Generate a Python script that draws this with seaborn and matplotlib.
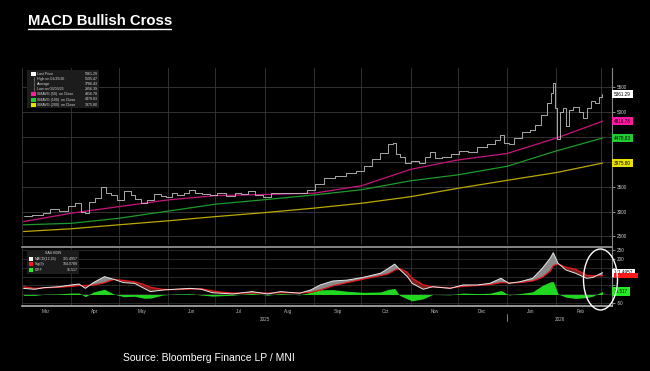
import pandas as pd
import matplotlib
matplotlib.use('Agg')
import matplotlib.pyplot as plt
import matplotlib.dates as mdates
import matplotlib.patches as mpatches
from matplotlib.lines import Line2D
from matplotlib.ticker import NullFormatter
import seaborn as sns

# ── Data ─────────────────────────────────────────────────────────────────────
price_dates = ["2025-03-02", "2025-03-13", "2025-03-16", "2025-03-21", "2025-03-28", "2025-04-01",
               "2025-04-06", "2025-04-09", "2025-04-10", "2025-04-14", "2025-04-18", "2025-04-22",
               "2025-04-24", "2025-04-28", "2025-05-02", "2025-05-07", "2025-05-10", "2025-05-13",
               "2025-05-17", "2025-05-20", "2025-05-26", "2025-05-29", "2025-06-02", "2025-06-05",
               "2025-06-09", "2025-06-13", "2025-06-16", "2025-06-20", "2025-06-25", "2025-06-30",
               "2025-07-04", "2025-07-11", "2025-07-15", "2025-07-19", "2025-07-24", "2025-07-28",
               "2025-08-03", "2025-08-07", "2025-08-13", "2025-08-19", "2025-08-25", "2025-08-31",
               "2025-09-04", "2025-09-11", "2025-09-18", "2025-09-25", "2025-09-30", "2025-10-05",
               "2025-10-10", "2025-10-15", "2025-10-20", "2025-10-22", "2025-10-24", "2025-10-27",
               "2025-10-30", "2025-11-04", "2025-11-08", "2025-11-12", "2025-11-15", "2025-11-18",
               "2025-11-24", "2025-11-29", "2025-12-04", "2025-12-10", "2025-12-16", "2025-12-22",
               "2025-12-26", "2025-12-29", "2025-12-31", "2026-01-04", "2026-01-07", "2026-01-13",
               "2026-01-17", "2026-01-20", "2026-01-24", "2026-01-28", "2026-01-29", "2026-01-30",
               "2026-02-01", "2026-02-02", "2026-02-04", "2026-02-06", "2026-02-08", "2026-02-10",
               "2026-02-13", "2026-02-17", "2026-02-18", "2026-02-22", "2026-02-24", "2026-02-27",
               "2026-03-01", "2026-03-02"]
price_close = [2910, 2933, 2980, 3048, 3020, 3115,
               3168, 3000, 2980, 3200, 3268, 3490,
               3370, 3335, 3235, 3423, 3335, 3250,
               3168, 3235, 3355, 3315, 3300, 3382,
               3335, 3370, 3436, 3382, 3355, 3335,
               3370, 3315, 3370, 3355, 3423, 3335,
               3300, 3382, 3382, 3370, 3382, 3436,
               3550, 3680, 3715, 3780, 3815, 3916,
               4050, 4185, 4352, 4385, 4150, 4100,
               3980, 4012, 3980, 4100, 4200, 4070,
               4100, 4150, 4215, 4200, 4300, 4352,
               4440, 4540, 4370, 4352, 4480, 4605,
               4640, 4740, 4940, 5177, 5380, 5580,
               5077, 4470, 5010, 5077, 4720, 5043,
               5110, 5010, 4875, 5077, 5225, 5177,
               5310, 5360]

ma_dates = ["2025-03-02", "2025-04-01", "2025-05-01", "2025-06-01", "2025-07-01", "2025-08-01",
            "2025-09-01", "2025-10-01", "2025-11-01", "2025-12-01", "2026-01-01", "2026-02-01",
            "2026-03-02"]
ma50 = [2800, 2968, 3100, 3235, 3322, 3345, 3370, 3520, 3850, 4040, 4170, 4480, 4817]
ma100 = [2735, 2765, 2866, 3010, 3150, 3240, 3335, 3440, 3620, 3740, 3913, 4222, 4479]
ma200 = [2600, 2655, 2735, 2815, 2900, 2980, 3070, 3168, 3300, 3470, 3630, 3786, 3976]

macd_dates = ["2025-03-02", "2025-03-09", "2025-03-15", "2025-03-24", "2025-04-01", "2025-04-06",
              "2025-04-10", "2025-04-15", "2025-04-22", "2025-04-28", "2025-05-04", "2025-05-11",
              "2025-05-17", "2025-05-21", "2025-05-29", "2025-06-05", "2025-06-15", "2025-06-22",
              "2025-06-29", "2025-07-04", "2025-07-12", "2025-07-24", "2025-08-03", "2025-08-11",
              "2025-08-23", "2025-08-30", "2025-09-05", "2025-09-13", "2025-09-22", "2025-10-02",
              "2025-10-13", "2025-10-18", "2025-10-22", "2025-10-25", "2025-10-30", "2025-11-02",
              "2025-11-09", "2025-11-15", "2025-11-26", "2025-12-04", "2025-12-13", "2025-12-21",
              "2025-12-28", "2026-01-02", "2026-01-09", "2026-01-17", "2026-01-23", "2026-01-28",
              "2026-01-30", "2026-02-02", "2026-02-07", "2026-02-13", "2026-02-20", "2026-02-24",
              "2026-03-02"]
macd = [34, 29, 38, 43, 53, 58, 34, 66, 99, 84, 66, 62,
        34, 16, 25, 29, 34, 29, 10, 7, 3, 16, 3, 16,
        7, 25, 53, 75, 80, 95, 118, 145, 169, 140, 99, 62,
        29, 43, 34, 53, 53, 62, 90, 62, 71, 90, 145, 201,
        232, 173, 136, 118, 90, 95, 121.5]
signal = [43, 34, 37, 40, 45, 50, 50, 52, 65, 84, 78, 70,
          55, 40, 28, 27, 30, 32, 20, 14, 8, 8, 8, 10,
          9, 12, 25, 48, 66, 85, 105, 115, 135, 145, 123, 90,
          53, 43, 36, 45, 50, 55, 66, 65, 66, 75, 95, 130,
          160, 170, 151, 140, 107, 104, 104.1]
diff = [-5, -5, 1, 3, 8, 8, -12, 14, 29, 2, -12, -10,
        -21, -20, -3, 2, 4, -3, -9, -7, -4, 6, -4, 5,
        -2, 12, 26, 27, 18, 12, 14, 28, 34, -5, -25, -35,
        -24, 0, -2, 8, 5, 7, 22, -3, 5, 15, 50, 70,
        72, 3, -15, -22, -17, -9, 17]

price_ticks = [2500, 3000, 3500, 4000, 4500, 5000, 5500]
price_tick_labels = ["2500", "3000", "3500", "", "", "5000", "5500"]
macd_ticks = [-50, 0, 50, 100, 150, 200, 250]
macd_tick_labels = ["-50", "", "", "", "", "200", "250"]

legend_rows = [("Last Price", "5361.29", "#ffffff"),
               ("High on 01/29/26", "5595.47", None),
               ("Average", "3786.43", None),
               ("Low on 03/03/25", "2856.39", None),
               ("SMAVG (50)  on Close", "4816.78", "#ff1aa3"),
               ("SMAVG (100)  on Close", "4478.83", "#22cc33"),
               ("SMAVG (200)  on Close", "3975.80", "#e8e000")]
macd_rows = [("MACD(12,26)", "121.4957", "#ffffff"),
             ("Sig(9)", "104.0788", "#ff1a1a"),
             ("DIFF", "16.517", "#22ee22")]

# ── Style ────────────────────────────────────────────────────────────────────
W, H = 650, 371
BG = "#000000"
GRID = "#3a3a3a"
sns.set_theme(style="dark", rc={
    "figure.facecolor": BG,
    "axes.facecolor": BG,
    "axes.edgecolor": "#888888",
    "text.color": "white",
    "xtick.color": "#bbbbbb",
    "ytick.color": "#bbbbbb",
})
plt.rcParams["font.family"] = ["Liberation Sans", "DejaVu Sans"]


def fx(x):
    return x / W


def fy(y):
    return 1 - y / H


pdf = pd.DataFrame({"date": pd.to_datetime(price_dates), "close": price_close})
mdf = pd.DataFrame({"date": pd.to_datetime(ma_dates), "ma50": ma50, "ma100": ma100, "ma200": ma200})
cdf = pd.DataFrame({"date": pd.to_datetime(macd_dates), "macd": macd, "signal": signal, "diff": diff})

fig = plt.figure(figsize=(6.5, 3.71), dpi=100)
ax = fig.add_axes([fx(22), fy(245), fx(612) - fx(22), fy(68) - fy(245)])
ax2 = fig.add_axes([fx(22), fy(306), fx(612) - fx(22), fy(247) - fy(306)], sharex=ax)

# ─ Price panel ───────────────────────────────────────────────────────────────
sns.lineplot(data=mdf, x="date", y="ma200", ax=ax, color="#bba800", lw=0.9)
sns.lineplot(data=mdf, x="date", y="ma100", ax=ax, color="#1c9a2a", lw=0.9)
sns.lineplot(data=mdf, x="date", y="ma50", ax=ax, color="#c8157e", lw=0.9)
sns.lineplot(data=pdf, x="date", y="close", ax=ax, color="#c4c4c4", lw=0.6,
             drawstyle="steps-mid")

ax.set_ylim(2329, 5888)
ax.set_xlim(pd.Timestamp("2025-03-01"), pd.Timestamp("2026-03-08"))
ax.set_yticks(price_ticks)
ax.set_yticklabels(price_tick_labels)
ax.yaxis.tick_right()
ax.tick_params(axis="y", labelsize=3.3, colors="#cccccc", length=2, pad=1.5, width=0.5)
ax.grid(True, color=GRID, lw=0.6)
ax.set_xlabel("")
ax.set_ylabel("")
for side in ["top", "left", "bottom"]:
    ax.spines[side].set_visible(False)
ax.spines["right"].set_color("#888888")
ax.spines["right"].set_linewidth(0.8)

# ─ MACD panel ────────────────────────────────────────────────────────────────
ax2.fill_between(cdf["date"], 0, cdf["diff"], color="#1fd81f", lw=0)
ax2.fill_between(cdf["date"], cdf["macd"], cdf["signal"], where=cdf["macd"] >= cdf["signal"],
                 interpolate=True, color="#8a8a8a", lw=0)
ax2.fill_between(cdf["date"], cdf["macd"], cdf["signal"], where=cdf["macd"] < cdf["signal"],
                 interpolate=True, color="#7a1f1f", lw=0)
sns.lineplot(data=cdf, x="date", y="signal", ax=ax2, color="#e51c1c", lw=0.9)
sns.lineplot(data=cdf, x="date", y="macd", ax=ax2, color="#e8e8e8", lw=0.7)

ax2.set_ylim(-64, 264)
ax2.set_yticks(macd_ticks)
ax2.set_yticklabels(macd_tick_labels)
ax2.yaxis.tick_right()
ax2.tick_params(axis="y", labelsize=3.3, colors="#cccccc", length=2, pad=1.5, width=0.5)
ax2.grid(True, color=GRID, lw=0.5)
ax2.set_xlabel("")
ax2.set_ylabel("")
ax2.spines["left"].set_visible(False)
ax2.spines["top"].set_color("#9a9a9a")
ax2.spines["top"].set_linewidth(1.2)
ax2.spines["bottom"].set_color("#b0b0b0")
ax2.spines["bottom"].set_linewidth(1.2)
ax2.spines["right"].set_color("#888888")
ax2.spines["right"].set_linewidth(0.8)

ax2.xaxis.set_major_locator(mdates.MonthLocator())
ax2.xaxis.set_major_formatter(NullFormatter())
ax2.xaxis.set_minor_locator(mdates.MonthLocator(bymonthday=16))
ax2.xaxis.set_minor_formatter(mdates.DateFormatter("%b"))
ax2.tick_params(axis="x", which="major", length=3, width=0.5, color="#888888")
ax2.tick_params(axis="x", which="minor", length=0, labelsize=3.3, colors="#bbbbbb", pad=2.5)
# the shared x axis must not print month names under the price panel
ax.tick_params(axis="x", which="both", labelbottom=False, length=0)

xt = ax2.get_xaxis_transform()
ax2.text(pd.Timestamp("2025-08-01"), -0.18, "2025", transform=xt, ha="center", va="top",
         fontsize=3.3, color="#bbbbbb")
ax2.text(pd.Timestamp("2026-02-03"), -0.18, "2026", transform=xt, ha="center", va="top",
         fontsize=3.3, color="#bbbbbb")
ax2.plot([pd.Timestamp("2026-01-01")] * 2, [-0.14, -0.26], transform=xt, clip_on=False,
         color="#999999", lw=0.6)


# ─ Last-value tags on the right axis ─────────────────────────────────────────
def tag(axis, val, text, fc, tc="black"):
    axis.annotate(text, xy=(1.0, val), xycoords=("axes fraction", "data"),
                  xytext=(1.5, 0), textcoords="offset points", ha="left", va="center",
                  fontsize=3.3, color=tc, annotation_clip=False, zorder=10,
                  bbox=dict(boxstyle="square,pad=0.35", fc=fc, ec="none"))


tag(ax, 5361.29, "5361.29", "#ffffff")
tag(ax, 4816.78, "4816.78", "#ff1aa3")
tag(ax, 4478.83, "4478.83", "#22cc33")
tag(ax, 3975.80, "3975.80", "#e8e000")
# signal tag sits under the MACD tag, only its lower edge shows
fig.add_artist(mpatches.Rectangle((fx(613.5), fy(278)), 24 / W, 5 / H, transform=fig.transFigure,
                                  fc="#ff1a1a", ec="none", zorder=9))
tag(ax2, 121.50, "121.4957", "#ffffff")
tag(ax2, 16.52, "16.517", "#22ee22")

# ─ Legend boxes ──────────────────────────────────────────────────────────────
fig.add_artist(mpatches.Rectangle((fx(27), fy(108)), fx(99) - fx(27), 38 / H,
                                  transform=fig.transFigure, fc="#1c1c1c", ec="none", zorder=5))
for i, (label, val, col) in enumerate(legend_rows):
    yy = 74 + i * 5.1
    if col:
        fig.add_artist(mpatches.Rectangle((fx(31.5), fy(yy + 2)), 4 / W, 4 / H,
                                          transform=fig.transFigure, fc=col, ec="none", zorder=6))
    else:
        fig.add_artist(Line2D([fx(33.5), fx(33.5)], [fy(yy + 2), fy(yy - 2)],
                              color="#888888", lw=0.5, zorder=6))
    fig.text(fx(37), fy(yy), label, fontsize=2.6, color="#d8d8d8", va="center", zorder=7)
    fig.text(fx(97.5), fy(yy), val, fontsize=2.6, color="#d8d8d8", va="center", ha="right", zorder=7)

fig.add_artist(mpatches.Rectangle((fx(27), fy(274)), fx(79) - fx(27), 24 / H,
                                  transform=fig.transFigure, fc="#1c1c1c", ec="none", zorder=5))
fig.text(fx(53), fy(253.5), "XAU BGN", fontsize=2.6, color="#d8d8d8", va="center", ha="center",
         zorder=7)
for i, (label, val, col) in enumerate(macd_rows):
    yy = 259 + i * 5.4
    fig.add_artist(mpatches.Rectangle((fx(29), fy(yy + 2)), 4 / W, 4 / H,
                                      transform=fig.transFigure, fc=col, ec="none", zorder=6))
    fig.text(fx(34.5), fy(yy), label, fontsize=2.6, color="#d8d8d8", va="center", zorder=7)
    fig.text(fx(77.5), fy(yy), val, fontsize=2.6, color="#d8d8d8", va="center", ha="right", zorder=7)

# ─ Annotation ellipse, title, source ─────────────────────────────────────────
fig.add_artist(mpatches.Ellipse((fx(600.5), fy(279.5)), 34 / W, 61 / H, transform=fig.transFigure,
                                fill=False, ec="white", lw=1.0, zorder=11))

fig.text(fx(28), fy(21), "MACD Bullish Cross", fontsize=10.7, fontweight="bold",
         color="white", va="center", ha="left")
fig.add_artist(Line2D([fx(28), fx(171)], [fy(28.5), fy(28.5)], color="white", lw=1.0))
fig.text(fx(123), fy(358), "Source: Bloomberg Finance LP / MNI", fontsize=7.5,
         color="white", va="center", ha="left")

plt.savefig("out.png", dpi=100, facecolor=BG)
plt.close()
